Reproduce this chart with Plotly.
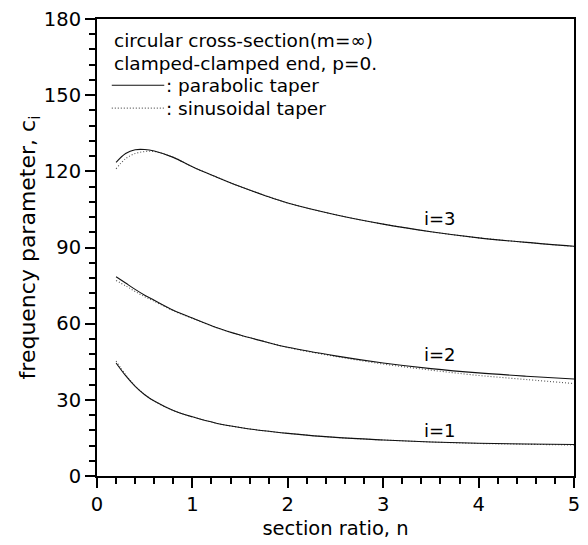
import plotly.graph_objects as go

# Section ratio n
n = [0.2, 0.3, 0.4, 0.5, 0.6, 0.8, 1.0, 1.25, 1.5, 1.75, 2.0, 2.5, 3.0, 3.5, 4.0, 4.5, 5.0]

# Frequency parameters, parabolic taper
par_i1 = [44.5, 39.5, 35.3, 32.0, 29.5, 25.8, 23.3, 20.8, 19.1, 17.8, 16.8, 15.2, 14.2, 13.4, 12.9, 12.6, 12.4]
par_i2 = [78.5, 76.0, 73.5, 71.2, 69.2, 65.3, 62.2, 58.5, 55.5, 53.0, 50.7, 47.3, 44.5, 42.3, 40.6, 39.3, 38.2]
par_i3 = [123.5, 127.0, 128.5, 128.6, 128.0, 125.5, 121.8, 117.8, 114.0, 110.6, 107.5, 102.9, 99.2, 96.2, 93.8, 92.0, 90.5]

# Frequency parameters, sinusoidal taper
sin_i1 = [45.3, 39.9, 35.5, 32.1, 29.5, 25.8, 23.3, 20.8, 19.1, 17.8, 16.8, 15.2, 14.2, 13.4, 12.8, 12.5, 12.2]
sin_i2 = [77.0, 74.9, 72.7, 70.6, 68.8, 65.1, 62.1, 58.5, 55.5, 53.0, 50.6, 47.1, 44.1, 41.7, 39.6, 38.0, 36.4]
sin_i3 = [121.0, 125.0, 127.0, 127.8, 127.8, 125.5, 121.8, 117.8, 114.0, 110.6, 107.5, 102.9, 99.2, 96.2, 93.8, 92.0, 90.4]

mode_labels = ["i=1", "i=2", "i=3"]
label_n = [3.6, 3.6, 3.6]
label_c = [18.0, 47.7, 101.6]

x_ticks = [0, 1, 2, 3, 4, 5]
y_ticks = [0, 30, 60, 90, 120, 150, 180]

FONT = "DejaVu Sans, Verdana, sans-serif"
SOLID = "#111111"
DOTTED = "#555555"

fig = go.Figure()

for ys in (sin_i1, sin_i2, sin_i3):
    fig.add_trace(go.Scatter(
        x=n, y=ys, mode="lines", line_shape="spline",
        line=dict(color=DOTTED, width=1.1, dash="1px,2px"),
        showlegend=False, hoverinfo="skip"))

for ys in (par_i1, par_i2, par_i3):
    fig.add_trace(go.Scatter(
        x=n, y=ys, mode="lines", line_shape="spline",
        line=dict(color=SOLID, width=1.1),
        showlegend=False, hoverinfo="skip"))

# Curve labels
for txt, xv, yv in zip(mode_labels, label_n, label_c):
    fig.add_annotation(x=xv, y=yv, xref="x", yref="y", text=txt, showarrow=False,
                       font=dict(family=FONT, size=18, color="black"))

# Header text
HDR = dict(family=FONT, size=18.5, color="black")
fig.add_annotation(x=0.031, y=0.952, xref="paper", yref="paper", xanchor="left", yanchor="middle",
                   text="circular cross-section(m=\u221e)", showarrow=False, font=HDR)
fig.add_annotation(x=0.031, y=0.902, xref="paper", yref="paper", xanchor="left", yanchor="middle",
                   text="clamped-clamped end, p=0.", showarrow=False, font=HDR)

# Legend keys
fig.add_shape(type="line", xref="paper", yref="paper", x0=0.031, x1=0.141, y0=0.855, y1=0.855,
              line=dict(color=SOLID, width=1.1))
fig.add_shape(type="line", xref="paper", yref="paper", x0=0.031, x1=0.141, y0=0.805, y1=0.805,
              line=dict(color=DOTTED, width=1.1, dash="1px,2px"))
fig.add_annotation(x=0.141, y=0.855, xref="paper", yref="paper", xanchor="left", yanchor="middle",
                   text=": parabolic taper", showarrow=False, font=HDR)
fig.add_annotation(x=0.141, y=0.805, xref="paper", yref="paper", xanchor="left", yanchor="middle",
                   text=": sinusoidal taper", showarrow=False, font=HDR)

axis_common = dict(
    showline=True, linecolor="black", linewidth=2, mirror=True,
    showgrid=False, zeroline=False,
    ticks="outside", ticklen=10, tickwidth=2, tickcolor="black",
    tickfont=dict(family=FONT, size=19.5, color="black"),
)

fig.update_xaxes(
    range=[0, 5], tickvals=x_ticks,
    minor=dict(dtick=0.2, ticks="outside", ticklen=6, tickwidth=1.5, tickcolor="black"),
    title=dict(text="section ratio, n", font=dict(family=FONT, size=19.5, color="black"), standoff=6),
    **axis_common)
fig.update_yaxes(
    range=[0, 180], tickvals=y_ticks,
    minor=dict(dtick=6, ticks="outside", ticklen=6, tickwidth=1.5, tickcolor="black"),
    title=dict(text="frequency parameter, c<sub>i</sub>", font=dict(family=FONT, size=22, color="black"), standoff=0),
    **axis_common)

fig.update_layout(
    width=588, height=545,
    margin=dict(l=97, r=8, t=15, b=69),
    plot_bgcolor="white", paper_bgcolor="white",
    showlegend=False,
)

fig.write_html("out.html")
